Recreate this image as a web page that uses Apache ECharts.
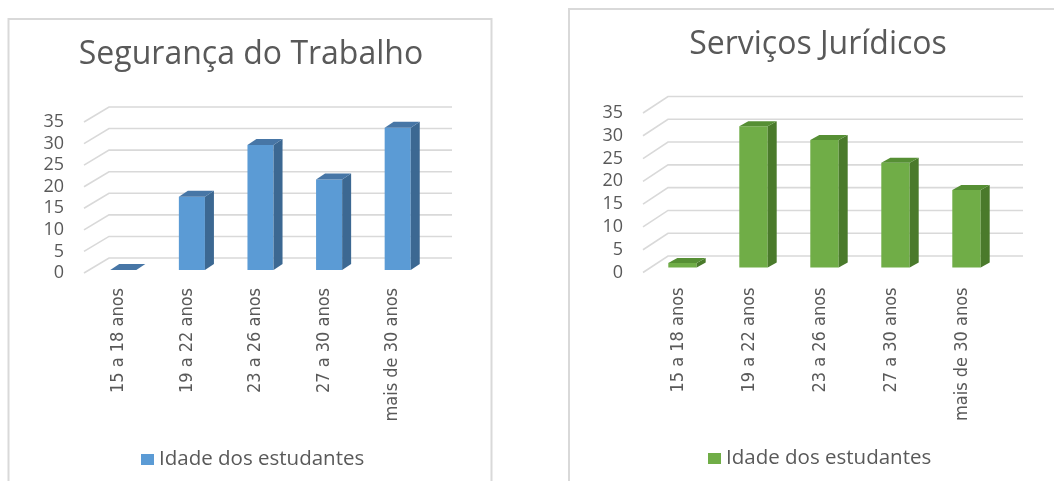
<!DOCTYPE html>
<html>
<head>
<meta charset="utf-8">
<script src="https://cdn.jsdelivr.net/npm/echarts@6/dist/echarts.min.js"></script>
<style>
html,body{margin:0;padding:0;background:#fff;}
#c{width:1054px;height:481px;}
</style>
</head>
<body>
<div id="c"></div>
<script>
const categories = ['15 a 18 anos', '19 a 22 anos', '23 a 26 anos', '27 a 30 anos', 'mais de 30 anos'];
const segurancaValues = [0, 17, 29, 21, 33];
const juridicosValues = [1, 31, 28, 23, 17];
const yTicks = [0, 5, 10, 15, 20, 25, 30, 35];
const titleLeft = 'Segurança do Trabalho';
const titleRight = 'Serviços Jurídicos';
const seriesName = 'Idade dos estudantes';

const GRAY = '#595959';
const GRID_LINE = '#d9d9d9';
const NARROW = "'Liberation Sans Narrow','DejaVu Sans Condensed','Roboto',sans-serif";
const SANS = "'Open Sans','Noto Sans',sans-serif";

function wallRenderer(DX, DY) {
  return function (params, api) {
    const cs = params.coordSys;
    const y = api.coord([0, api.value(1)])[1];
    const x0 = cs.x;
    return {
      type: 'polyline',
      shape: { points: [[x0, y], [x0 + DX, y - DY], [x0 + cs.width + DX, y - DY]] },
      style: { stroke: GRID_LINE, lineWidth: 1.6, fill: null }
    };
  };
}

function barRenderer(opt) {
  return function (params, api) {
    const i = api.value(0);
    const base = api.coord([i, 0]);
    const top = api.coord([i, api.value(1)]);
    const bw = api.size([1, 0])[0] * opt.widthRatio;
    const cx = base[0] + opt.ox;
    const y0 = base[1] - opt.oy;
    const y1 = top[1] - opt.oy;
    const xl = cx - bw / 2, xr = cx + bw / 2;
    const children = [];
    if (y0 - y1 > 0.5) {
      children.push({ type: 'rect', shape: { x: xl, y: y1, width: bw, height: y0 - y1 }, style: { fill: opt.front } });
      children.push({ type: 'polygon', shape: { points: [[xr, y1], [xr + opt.d, y1 - opt.dy], [xr + opt.d, y0 - opt.dy], [xr, y0]] }, style: { fill: opt.side } });
    }
    children.push({ type: 'polygon', shape: { points: [[xl, y1], [xl + opt.d, y1 - opt.dy], [xr + opt.d, y1 - opt.dy], [xr, y1]] }, style: { fill: opt.top } });
    return { type: 'group', children: children };
  };
}

function xAxisFor(gi) {
  return {
    gridIndex: gi, type: 'category', data: categories, boundaryGap: true,
    axisLine: { show: false }, axisTick: { show: false }, splitLine: { show: false },
    axisLabel: { rotate: 90, margin: 15, color: GRAY, fontFamily: NARROW, fontSize: 18, interval: 0 }
  };
}
function yAxisFor(gi) {
  return {
    gridIndex: gi, type: 'value', min: 0, max: 35, interval: 5,
    axisLine: { show: false }, axisTick: { show: false }, splitLine: { show: false },
    axisLabel: { margin: 20, color: GRAY, fontFamily: SANS, fontSize: 18 }
  };
}

const chart = echarts.init(document.getElementById('c'));
chart.setOption({
  backgroundColor: '#fff',
  animation: false,
  title: [
    { text: titleLeft, left: 251, top: 39, textAlign: 'center', padding: 0,
      textStyle: { fontFamily: SANS, fontSize: 32, fontWeight: 'normal', color: GRAY } },
    { text: titleRight, left: 818, top: 29, textAlign: 'center', padding: 0,
      textStyle: { fontFamily: SANS, fontSize: 32, fontWeight: 'normal', color: GRAY } }
  ],
  legend: [
    { left: 141, top: 449, padding: 0, itemWidth: 13, itemHeight: 11, selectedMode: false,
      textStyle: { fontFamily: SANS, fontSize: 20.5, color: GRAY },
      data: [{ name: seriesName, icon: 'rect', itemStyle: { color: '#5B9BD5' } }] },
    { left: 708, top: 448, padding: 0, itemWidth: 13, itemHeight: 11, selectedMode: false,
      textStyle: { fontFamily: SANS, fontSize: 20.5, color: GRAY },
      data: [{ name: seriesName, icon: 'rect', itemStyle: { color: '#70AD47' } }] }
  ],
  grid: [
    { left: 84, top: 122, width: 343, height: 151 },
    { left: 643, top: 113, width: 355, height: 159.5 }
  ],
  xAxis: [xAxisFor(0), xAxisFor(1)],
  yAxis: [yAxisFor(0), yAxisFor(1)],
  graphic: [
    { type: 'rect', z: -10, silent: true, shape: { x: 8.5, y: 19, width: 483, height: 500 },
      style: { fill: 'none', stroke: GRID_LINE, lineWidth: 2 } },
    { type: 'rect', z: -10, silent: true, shape: { x: 569, y: 9, width: 520, height: 500 },
      style: { fill: 'none', stroke: GRID_LINE, lineWidth: 2 } }
  ],
  series: [
    { type: 'custom', name: 'wall-left', xAxisIndex: 0, yAxisIndex: 0, silent: true, z: 1,
      data: yTicks.map(v => [0, v]), renderItem: wallRenderer(25, 15) },
    { type: 'custom', name: seriesName, xAxisIndex: 0, yAxisIndex: 0, z: 2,
      itemStyle: { color: '#5B9BD5' },
      data: categories.map((c, i) => [i, segurancaValues[i]]),
      renderItem: barRenderer({ ox: 5, oy: 3, widthRatio: 0.38, d: 9, dy: 6, front: '#5B9BD5', side: '#3C6892', top: '#4776A6' }) },
    { type: 'custom', name: 'wall-right', xAxisIndex: 1, yAxisIndex: 1, silent: true, z: 1,
      data: yTicks.map(v => [0, v]), renderItem: wallRenderer(25, 16.5) },
    { type: 'custom', name: seriesName, xAxisIndex: 1, yAxisIndex: 1, z: 2,
      itemStyle: { color: '#70AD47' },
      data: categories.map((c, i) => [i, juridicosValues[i]]),
      renderItem: barRenderer({ ox: 4, oy: 5, widthRatio: 0.40, d: 9, dy: 5, front: '#70AD47', side: '#4A7A2B', top: '#568F34' }) }
  ]
});
</script>
</body>
</html>
